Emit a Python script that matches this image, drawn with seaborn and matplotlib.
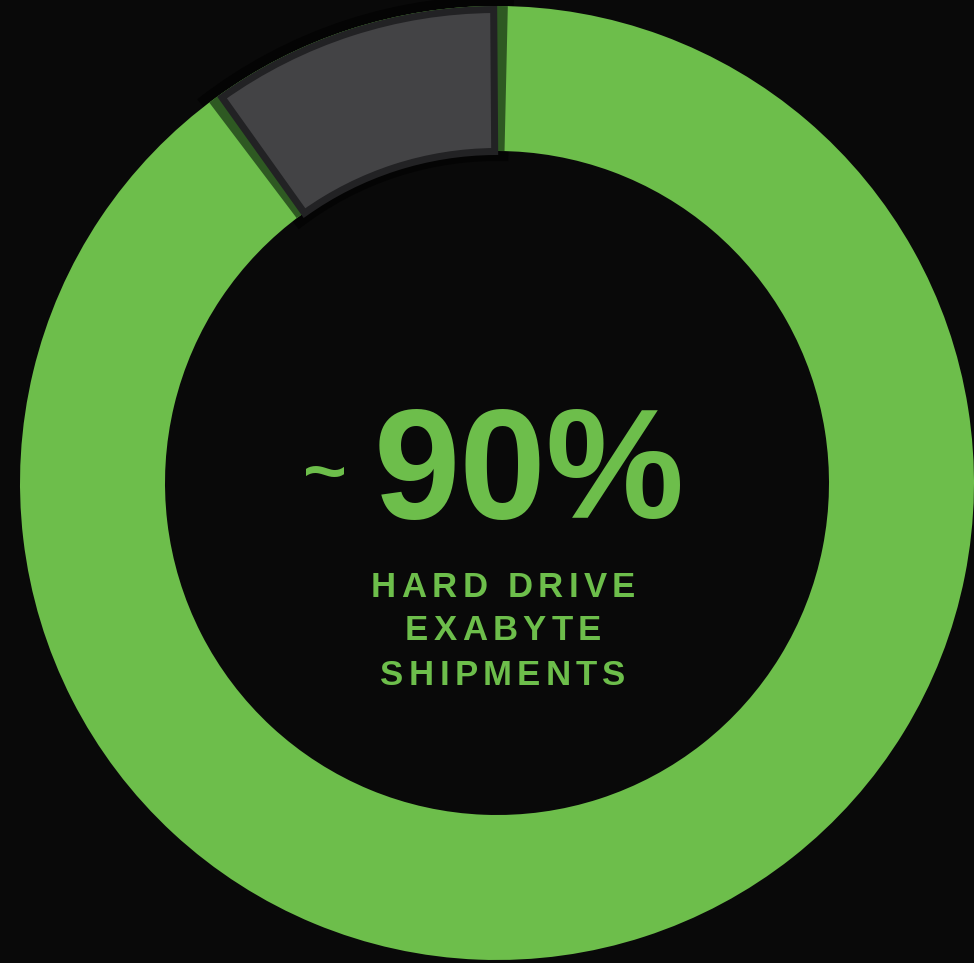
import numpy as np
import matplotlib
matplotlib.use("Agg")
import matplotlib.pyplot as plt
import seaborn as sns
from matplotlib.patches import Wedge
from matplotlib.font_manager import FontProperties, findfont, get_font

# data
segments = ["Hard drive", "Other storage"]
shares = [90, 10]
headline_prefix = "~"
headline = "90%"
caption = ["HARD DRIVE", "EXABYTE", "SHIPMENTS"]

bg = "#090909"
green = "#6dbe4b"
green_dark = "#2e5922"
gray = "#434345"
gray_edge = "#222224"

sns.set_theme(style="dark", rc={"axes.facecolor": bg, "figure.facecolor": bg})
plt.rcParams["font.family"] = ["Liberation Sans", "DejaVu Sans"]

W, H = 974, 963
fig = plt.figure(figsize=(W / 100, H / 100), dpi=100)
ax = fig.add_axes([0, 0, 1, 1])

cx, cy = 497, H - 483
R_out, R_in = 477, 332

# pie order: "other" first so it sits at the top going counter-clockwise
vals = [shares[1], shares[0]]
other_span = 360 * shares[1] / sum(shares)
t1, t2 = 90, 90 + other_span

# soft shadow behind the highlighted segment
ax.add_patch(Wedge((cx, cy), R_out + 10, t1 - 2, t2 + 2, width=R_out - R_in + 20,
                   facecolor="#040404", edgecolor="none"))

wedges, _ = ax.pie(vals, colors=[green, green], startangle=90, counterclock=True,
                   radius=R_out, center=(cx, cy),
                   wedgeprops=dict(width=R_out - R_in, linewidth=0))

# darker green rim next to the highlighted segment
ax.add_patch(Wedge((cx, cy), R_out, t1 - 1.3, t2 + 1.1, width=R_out - R_in,
                   facecolor=green_dark, edgecolor="none"))

# highlighted (gray) segment with dark border
bw = 7
ax.add_patch(Wedge((cx, cy), R_out - bw / 2, t1 + 0.4, t2 - 0.5,
                   width=R_out - R_in - bw + 4,
                   facecolor=gray, edgecolor=gray_edge, linewidth=bw * 72 / 100,
                   joinstyle="miter"))

ax.set_xlim(0, W)
ax.set_ylim(0, H)
ax.set_aspect("equal")
ax.axis("off")

# headline
ax.text(529, H - 518, headline, ha="center", va="baseline", color=green,
        fontsize=112, fontweight="bold")
ax.text(325, H - 496, headline_prefix, ha="center", va="baseline", color=green,
        fontsize=54, fontweight="bold")


def spaced(text, x, y, size_pt, track):
    fp = FontProperties(family="Liberation Sans", weight="bold")
    font = get_font(findfont(fp))
    font.set_size(size_pt, 100)
    adv = [font.load_char(ord(c)).linearHoriAdvance / 65536 for c in text]
    total = sum(adv) + track * (len(text) - 1)
    pos = x - total / 2
    for c, a in zip(text, adv):
        if c != " ":
            ax.text(pos + a / 2, y, c, ha="center", va="baseline", color=green,
                    fontsize=size_pt, fontweight="bold")
        pos += a + track


baselines = [597, 640, 685]
for line, b in zip(caption, baselines):
    spaced(line, 503, H - b, 25, 5.3)

fig.savefig("out.png", dpi=100, facecolor=bg)
